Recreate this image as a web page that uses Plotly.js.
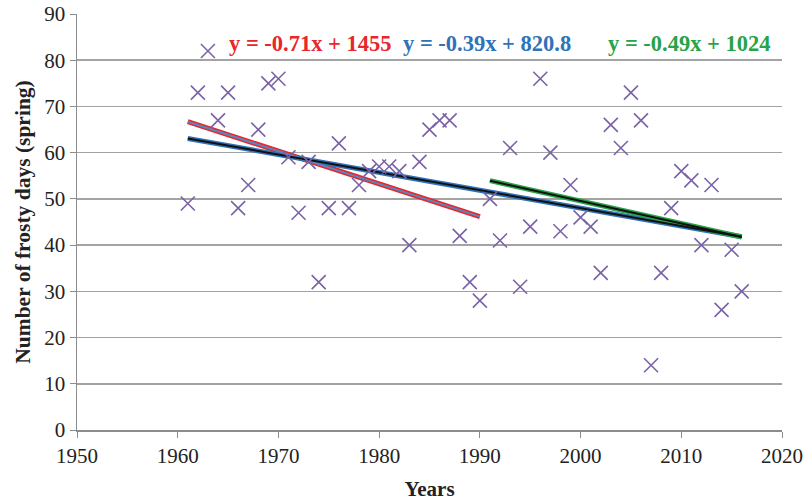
<!DOCTYPE html>
<html>
<head>
<meta charset="utf-8">
<script src="https://cdn.plot.ly/plotly-3.0.1.min.js"></script>
<style>
  html, body { margin: 0; padding: 0; background: #fff; }
  #chart { width: 810px; height: 503px; }
</style>
</head>
<body>
<div id="chart"></div>
<script>
// Spring frosty days per year
const years = [
  1961, 1962, 1963, 1964, 1965, 1966, 1967, 1968, 1969, 1970,
  1971, 1972, 1973, 1974, 1975, 1976, 1977, 1978, 1979, 1980,
  1981, 1982, 1983, 1984, 1985, 1986, 1987, 1988, 1989, 1990,
  1991, 1992, 1993, 1994, 1995, 1996, 1997, 1998, 1999, 2000,
  2001, 2002, 2003, 2004, 2005, 2006, 2007, 2008, 2009, 2010,
  2011, 2012, 2013, 2014, 2015, 2016
];
const frostyDays = [
  49, 73, 82, 67, 73, 48, 53, 65, 75, 76,
  59, 47, 58, 32, 48, 62, 48, 53, 56, 57,
  57, 56, 40, 58, 65, 67, 67, 42, 32, 28,
  50, 41, 61, 31, 44, 76, 60, 43, 53, 46,
  44, 34, 66, 61, 73, 67, 14, 34, 48, 56,
  54, 40, 53, 26, 39, 30
];

// Trend periods and their equation labels
const periods = [
  { from: 1961, to: 1990, label: "y = -0.71x + 1455",  color: "#e8262b", inner: "#5b86bd" },
  { from: 1961, to: 2016, label: "y = -0.39x + 820.8", color: "#2f72b8", inner: "#111111" },
  { from: 1991, to: 2016, label: "y = -0.49x + 1024",  color: "#27a348", inner: "#111111" }
];
const labelX = [1973.2, 1990.7, 2010.8];
const labelY = 83.6;

// Ordinary least squares on a year range
function fit(from, to) {
  const xs = [], ys = [];
  years.forEach((yr, i) => { if (yr >= from && yr <= to) { xs.push(yr); ys.push(frostyDays[i]); } });
  const n = xs.length;
  const mx = xs.reduce((a, b) => a + b, 0) / n;
  const my = ys.reduce((a, b) => a + b, 0) / n;
  let sxy = 0, sxx = 0;
  for (let i = 0; i < n; i++) { sxy += (xs[i] - mx) * (ys[i] - my); sxx += (xs[i] - mx) ** 2; }
  const slope = sxy / sxx;
  const icpt = my - slope * mx;
  return { xs: [from, to], ys: [slope * from + icpt, slope * to + icpt] };
}

const serif = "Liberation Serif, Times New Roman, serif";
const traces = [];

// Outer coloured stroke first, then a thin inner stroke on top
periods.forEach(p => {
  const f = fit(p.from, p.to);
  traces.push({ x: f.xs, y: f.ys, mode: "lines", line: { color: p.color, width: 5 }, hoverinfo: "skip", showlegend: false });
});
periods.forEach(p => {
  const f = fit(p.from, p.to);
  traces.push({ x: f.xs, y: f.ys, mode: "lines", line: { color: p.inner, width: 2 }, hoverinfo: "skip", showlegend: false });
});

traces.push({
  x: years, y: frostyDays, mode: "markers", showlegend: false,
  marker: { symbol: "x-thin-open", size: 14, color: "#7a62a6", line: { color: "#7a62a6", width: 1.6 } }
});

const annotations = periods.map((p, i) => ({
  x: labelX[i], y: labelY, xref: "x", yref: "y", text: "<b>" + p.label + "</b>",
  showarrow: false, font: { family: serif, size: 22.5, color: p.color }
}));

const layout = {
  width: 810, height: 503,
  margin: { l: 77, r: 28, t: 14, b: 73 },
  paper_bgcolor: "#fff", plot_bgcolor: "#fff",
  font: { family: serif, color: "#222" },
  showlegend: false,
  xaxis: {
    range: [1950, 2020], dtick: 10, tick0: 1950,
    showgrid: false, zeroline: false,
    showline: true, linecolor: "#8c8c8c", linewidth: 1.5,
    ticks: "outside", ticklen: 6, tickcolor: "#8c8c8c",
    tickfont: { family: serif, size: 21, color: "#222" },
    title: { text: "<b>Years</b>", font: { family: serif, size: 21, color: "#222" }, standoff: 14 }
  },
  yaxis: {
    range: [0, 90], dtick: 10,
    showgrid: true, gridcolor: "#a3a3a3", gridwidth: 1.5,
    zeroline: false,
    showline: true, linecolor: "#8c8c8c", linewidth: 1.5,
    ticks: "outside", ticklen: 6, tickcolor: "#8c8c8c",
    tickfont: { family: serif, size: 21, color: "#222" },
    title: { text: "<b>Number of frosty days (spring)</b>", font: { family: serif, size: 21.5, color: "#222" }, standoff: 8 }
  },
  annotations: annotations
};

Plotly.newPlot("chart", traces, layout, { displayModeBar: false, staticPlot: true });
</script>
</body>
</html>
